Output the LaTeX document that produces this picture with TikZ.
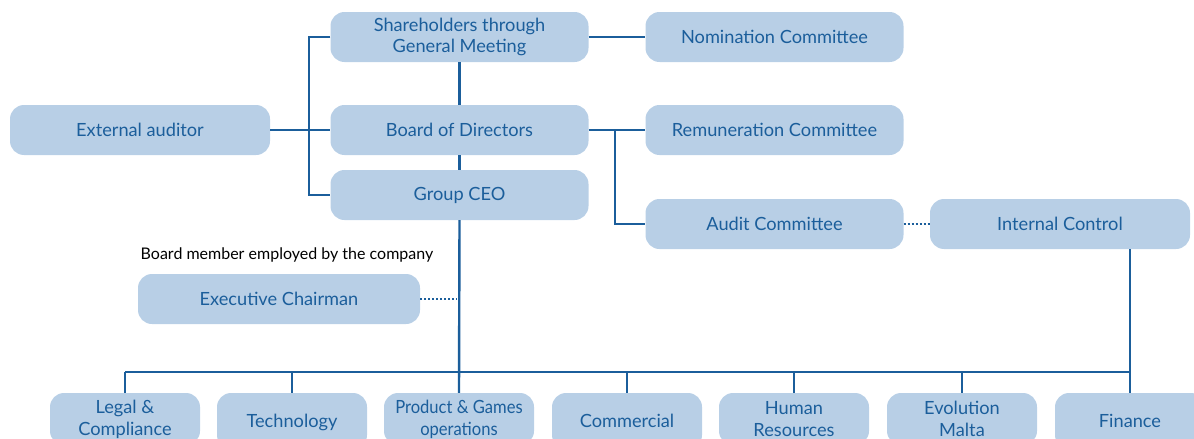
\documentclass[tikz,border=0pt]{standalone}
\usepackage{fontspec}
\setmainfont{Lato}
\newfontfamily\narrowlato[FakeStretch=0.91]{Lato}
\definecolor{boxfill}{HTML}{B8CFE6}
\definecolor{ink}{HTML}{1B5E9B}
\begin{document}
\begin{tikzpicture}[x=1pt,y=-1pt,
  unit/.style={draw=none,fill=boxfill,rounded corners=14pt,text=ink,
    font=\fontsize{18.2}{20.5}\selectfont,align=center,inner sep=0pt,
    minimum height=50pt},
  wide/.style={unit,minimum width=258pt},
  dept/.style={unit,minimum width=150pt,minimum height=56pt,text depth=0pt},
  depttwo/.style={unit,minimum width=150pt,minimum height=52pt,
    font=\fontsize{18.2}{22}\selectfont},
  link/.style={draw=ink,line width=2.4pt},
  dotlink/.style={draw=ink,line width=2pt,dotted}]
\useasboundingbox (0,0) rectangle (1194,439);
\clip (0,0) rectangle (1194,439);

% governance boxes
\node[wide] (sh) at (459.5,37) {Shareholders through\\General Meeting};
\node[wide] (nom) at (774.5,37) {Nomination Committee};
\node[wide,minimum width=260pt] (ext) at (140,130) {External auditor};
\node[wide] (bod) at (459.5,130) {Board of Directors};
\node[wide] (rem) at (774.5,130) {Remuneration Committee};
\node[wide] (ceo) at (459.5,195) {Group CEO};
\node[wide] (aud) at (774.5,224) {Audit Committee};
\node[wide,minimum width=260pt] (ic) at (1060,224) {Internal Control};
\node[wide,minimum width=282pt] (exec) at (279,299) {Executive Chairman};
\node[font=\fontsize{16}{18}\selectfont,text=black,inner sep=0pt] (note) at (287,255) {Board member employed by the company};

% departments (cut by the lower edge)
\node[depttwo] (legal) at (125,419) {Legal \&\\Compliance};
\node[dept] (tech) at (292,421) {Technology};
\node[depttwo,font=\narrowlato\fontsize{18.2}{22}\selectfont] (prod) at (459,419) {Product \& Games\\operations};
\node[dept] (comm) at (627,421) {Commercial};
\node[depttwo] (hr) at (794,419) {Human\\Resources};
\node[depttwo] (malta) at (962,419) {Evolution\\Malta};
\node[dept] (fin) at (1130,421) {Finance};

% coordinates of the joints
\coordinate (lbus) at (309,130);
\coordinate (rbus) at (615,130);
\coordinate (bus) at (459,372);
\coordinate (execdot) at (457,299);

% left bracket
\draw[link] (sh.west) -| (lbus) |- (ceo.west);
\draw[link] (ext.east) -- (bod.west);
% centre spine
\draw[link] (sh.south) -- (bod.north);
\draw[link] (bod.south) -- (ceo.north);
\draw[link] (ceo.south) -- (prod.north);
% committees
\draw[link] (sh.east) -- (nom.west);
\draw[link] (bod.east) -- (rem.west);
\draw[link] (rbus) |- (aud.west);
\draw[dotlink] (aud.east) -- (ic.west);
\draw[dotlink] (exec.east) -- (execdot);
% department bus
\draw[link] (legal.north |- bus) -- (fin.north |- bus);
\draw[link] (fin.north |- ic.south) -- (fin.north);
\foreach \d in {legal,tech,comm,hr,malta}
  \draw[link] (\d.north) -- (\d.north |- bus);
\end{tikzpicture}
\end{document}
